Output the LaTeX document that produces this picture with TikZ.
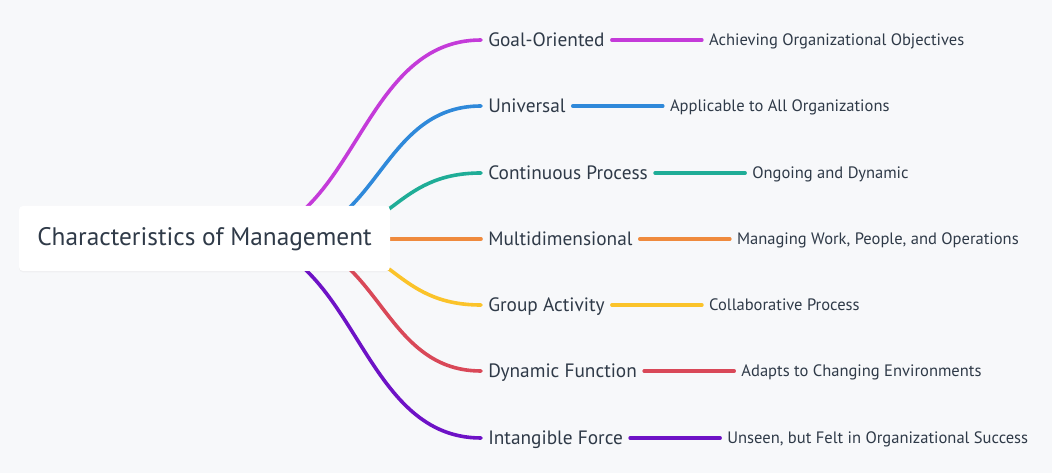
\documentclass[tikz,border=0pt]{standalone}
\usepackage{fontspec}
\setmainfont{PT Sans}
\usetikzlibrary{positioning,calc,shadows}

\definecolor{bgcol}{HTML}{F7F8FA}
\definecolor{txtcol}{HTML}{2F3A48}
\definecolor{cgoal}{HTML}{C43BD9}
\definecolor{cuniv}{HTML}{2F89DA}
\definecolor{ccont}{HTML}{1FAD97}
\definecolor{cmult}{HTML}{EF8A3D}
\definecolor{cgroup}{HTML}{FBC32A}
\definecolor{cdyn}{HTML}{D94858}
\definecolor{cforce}{HTML}{6E12C6}

\tikzset{
	branch/.style={line width=2.7pt, line cap=round},
	topic/.style={fill=white, rounded corners=3pt, minimum width=278.25pt, minimum height=48.75pt,
		text=txtcol, font=\fontsize{19}{22}\selectfont, text height=14pt, text depth=3.5pt,
		drop shadow={shadow xshift=0pt, shadow yshift=-1pt, opacity=0.06}},
	feature/.style={anchor=west, inner xsep=5.25pt, inner ysep=0pt, text=txtcol,
		font=\fontsize{14.5}{17}\selectfont, text height=12.5pt, text depth=2.5pt},
	detail/.style={inner xsep=5.25pt, inner ysep=0pt, text=txtcol,
		font=\fontsize{12.4}{15}\selectfont, text height=11pt, text depth=2.2pt},
}

\begin{document}
\begin{tikzpicture}[x=0.75pt,y=-0.75pt]

	\fill [bgcol] (0,0) rectangle (1052,473);
	\useasboundingbox (0,0) rectangle (1052,473);

	% branches: name / detail / colour / row / start of curve
	\foreach \name/\desc/\col/\y/\sx [count=\i] in {
		Goal-Oriented/Achieving Organizational Objectives/cgoal/40/232,
		Universal/Applicable to All Organizations/cuniv/106/277,
		Continuous Process/Ongoing and Dynamic/ccont/173/305,
		Multidimensional/{Managing Work, People, and Operations}/cmult/239/330,
		Group Activity/Collaborative Process/cgroup/305/305,
		Dynamic Function/Adapts to Changing Environments/cdyn/371/279,
		Intangible Force/{Unseen, but Felt in Organizational Success}/cforce/438/232} {
		\coordinate (s\i) at (\sx,239);
		\node [feature] (f\i) at (481,\y) {\name};
		\node [detail, right=67.5pt of f\i] (d\i) {\desc};
		\draw [branch, \col] let \p1=(s\i), \p2=(f\i.west) in
			(\p1) .. controls ({(\x1+\x2)/2},\y1) and ({(\x1+\x2)/2},\y2) .. (\p2);
		\draw [branch, \col] (f\i.east) -- (d\i.west);
	}

	\node [topic] (root) at (204.5,238.5) {Characteristics of Management};

\end{tikzpicture}
\end{document}
